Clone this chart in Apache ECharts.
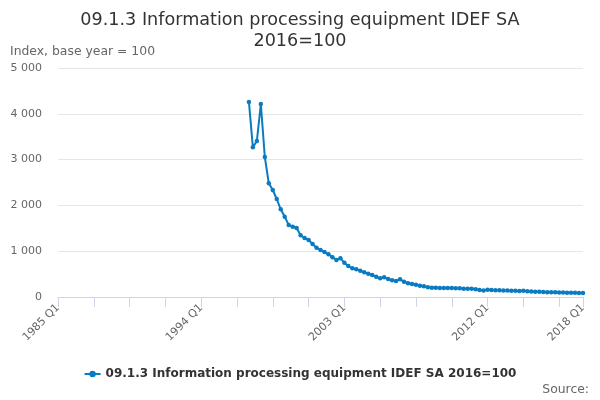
<!DOCTYPE html>
<html>
<head>
<meta charset="utf-8">
<script src="https://cdn.jsdelivr.net/npm/echarts@6/dist/echarts.min.js"></script>
<style>html,body{margin:0;padding:0;background:#fff}#c{width:600px;height:400px}</style>
</head>
<body>
<div id="c"></div>
<script>
const startYear = 1985;
const endYear = 2018;
const categories = [];
for (let y = startYear; y <= endYear; y++) {
  for (let q = 1; q <= 4; q++) {
    if (y === endYear && q > 1) break;
    categories.push(y + ' Q' + q);
  }
}
const leadingMissing = 48; // 1985 Q1 .. 1996 Q4 have no data
const observed = [
  4260, 3268, 3406, 4214, 3057, 2482, 2336, 2140, 1915, 1754,
  1572, 1535, 1507, 1347, 1288, 1245, 1157, 1077, 1026, 980,
  932, 867, 808, 845, 749, 677, 627, 605, 574, 539,
  509, 480, 443, 408, 430, 393, 368, 352, 386, 332,
  299, 284, 269, 247, 234, 212, 203, 203, 197, 197,
  197, 197, 190, 190, 181, 181, 178, 170, 153, 140,
  160, 153, 150, 146, 144, 140, 138, 136, 131, 134,
  128, 122, 116, 113, 110, 106, 103, 101, 99, 97,
  95, 93, 91, 90, 89
];
const values = new Array(leadingMissing).fill(null).concat(observed);
const seriesName = '09.1.3 Information processing equipment IDEF SA 2016=100';
const yTicks = [0, 1000, 2000, 3000, 4000, 5000];

const chart = echarts.init(document.getElementById('c'), null, {renderer: 'canvas'});
const font = 'DejaVu Sans';
const lastIdx = categories.length - 1;
chart.setOption({
  animation: false,
  textStyle: {fontFamily: font},
  title: {
    text: '09.1.3 Information processing equipment IDEF SA\n2016=100',
    left: 'center', top: 5,
    textStyle: {fontFamily: font, fontSize: 17.6, fontWeight: 'normal', color: '#333', lineHeight: 21}
  },
  graphic: [
    {type: 'text', left: 10, top: 46, style: {text: 'Index, base year = 100', fill: '#666', font: '12.4px "DejaVu Sans"'}},
    {type: 'text', right: 11, top: 384, style: {text: 'Source:', fill: '#666', font: '12.4px "DejaVu Sans"'}}
  ],
  legend: {
    bottom: 15, left: 'center',
    itemWidth: 16, itemHeight: 8,
    textStyle: {fontFamily: font, fontSize: 12, fontWeight: 'bold', color: '#333'},
    data: [seriesName]
  },
  grid: {left: 58, right: 17, top: 68, bottom: 103},
  xAxis: {
    type: 'category',
    data: categories,
    boundaryGap: false,
    axisLine: {lineStyle: {color: '#ccd6eb'}},
    axisTick: {
      length: 10, lineStyle: {color: '#ccd6eb'},
      interval: (i) => i % 9 === 0 || i === lastIdx
    },
    axisLabel: {
      rotate: 45, color: '#666', fontSize: 11, fontFamily: font, margin: 9,
      interval: (i) => i % 36 === 0 || i === lastIdx
    },
    splitLine: {show: false}
  },
  yAxis: {
    type: 'value',
    min: yTicks[0], max: yTicks[yTicks.length - 1], interval: 1000,
    axisLine: {show: false},
    axisTick: {show: false},
    axisLabel: {
      color: '#666', fontSize: 11, fontFamily: font, margin: 16,
      formatter: (v) => String(v).replace(/\B(?=(\d{3})+(?!\d))/g, ' ')
    },
    splitLine: {lineStyle: {color: '#e6e6e6'}}
  },
  series: [{
    name: seriesName,
    type: 'line',
    data: values,
    connectNulls: false,
    symbol: 'circle',
    symbolSize: 4.5,
    showAllSymbol: true,
    lineStyle: {color: '#0b7bc1', width: 2},
    itemStyle: {color: '#0b7bc1'}
  }]
});
</script>
</body>
</html>
